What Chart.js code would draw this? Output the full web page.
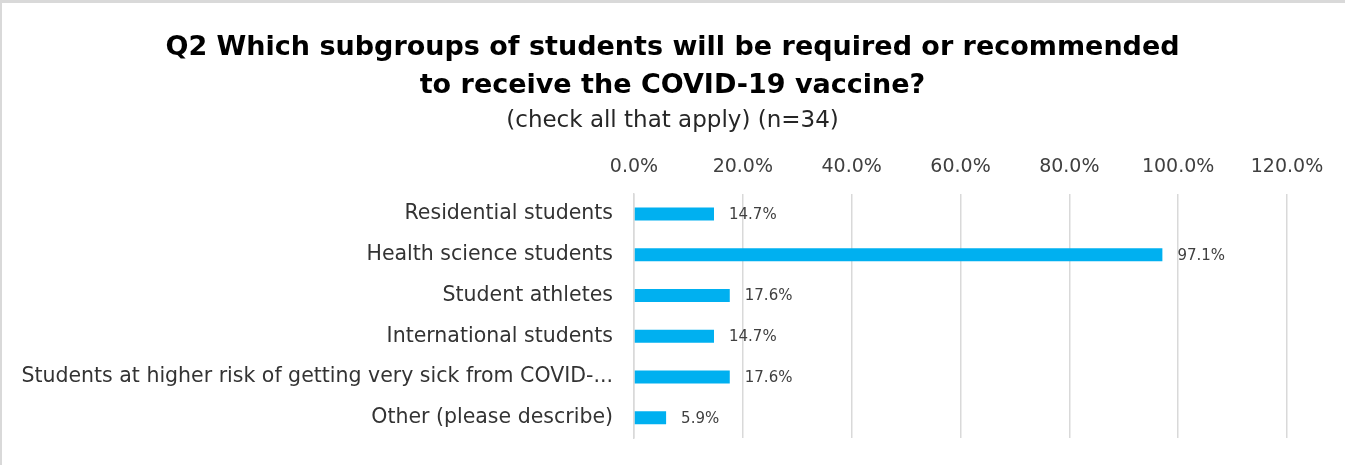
<!DOCTYPE html>
<html>
<head>
<meta charset="utf-8">
<script src="https://cdn.jsdelivr.net/npm/chart.js@4/dist/chart.umd.min.js"></script>
<style>
  html, body { margin: 0; padding: 0; background: #fff; overflow: hidden; }
  .frame {
    position: absolute; left: 0; top: 0;
    width: 1360px; height: 480px;
    border-left: 2px solid #d9d9d9; border-top: 3px solid #d9d9d9;
    box-sizing: border-box;
  }
  .wrap { position: absolute; left: 0; top: 0; width: 1345px; height: 465px; }
</style>
</head>
<body>
<div class="frame"></div>
<div class="wrap"><canvas id="chart" width="1345" height="465"></canvas></div>
<script>
// Survey answers: share of respondents choosing each subgroup
const categories = [
  'Residential students',
  'Health science students',
  'Student athletes',
  'International students',
  'Students at higher risk of getting very sick from COVID-...',
  'Other (please describe)'
];
const shares = [0.147, 0.971, 0.176, 0.147, 0.176, 0.059];
const titleLines = [
  'Q2 Which subgroups of students will be required or recommended',
  'to receive the COVID-19 vaccine?'
];
const subtitleText = '(check all that apply) (n=34)';

const FONT = "'DejaVu Sans', 'Open Sans', sans-serif";
const pct = v => (v * 100).toFixed(1) + '%';

// Writes the value just past the end of each bar
const valueLabels = {
  id: 'valueLabels',
  afterDatasetsDraw(chart) {
    const ctx = chart.ctx;
    const meta = chart.getDatasetMeta(0);
    ctx.save();
    ctx.font = '15px ' + FONT;
    ctx.fillStyle = '#404040';
    ctx.textAlign = 'left';
    ctx.textBaseline = 'middle';
    meta.data.forEach((bar, i) => {
      ctx.fillText(pct(shares[i]), bar.x + 15, bar.y + 1);
    });
    ctx.restore();
  }
};

// Centre the title and subtitle on the whole canvas rather than the padded box
const centreHeadings = {
  id: 'centreHeadings',
  afterLayout(chart) {
    chart.boxes.forEach(box => {
      if (box.fullSize && box.options && 'text' in box.options) {
        box.left = 0;
        box.right = chart.width;
      }
    });
  }
};

new Chart(document.getElementById('chart'), {
  type: 'bar',
  data: {
    labels: categories,
    datasets: [{
      data: shares,
      backgroundColor: '#00b0f0',
      borderWidth: 0,
      barPercentage: 0.8,
      categoryPercentage: 0.4
    }]
  },
  options: {
    indexAxis: 'y',
    responsive: false,
    animation: false,
    layout: { padding: { left: 0, right: 58, top: 0, bottom: 27 } },
    plugins: {
      legend: { display: false },
      tooltip: { enabled: false },
      title: {
        display: true,
        text: titleLines,
        color: '#000',
        font: { family: FONT, size: 27, weight: 'bold', lineHeight: 1.4 },
        padding: { top: 29, bottom: 0 }
      },
      subtitle: {
        display: true,
        text: subtitleText,
        color: '#262626',
        font: { family: FONT, size: 23, weight: 'normal', lineHeight: 1.1 },
        padding: { top: 4, bottom: 7 }
      }
    },
    scales: {
      x: {
        position: 'top',
        min: 0,
        max: 1.2,
        ticks: {
          stepSize: 0.2,
          callback: v => pct(v),
          color: '#404040',
          font: { family: FONT, size: 19 },
          padding: 15
        },
        grid: { color: '#d9d9d9', lineWidth: 1.5, drawTicks: false },
        border: { display: false }
      },
      y: {
        afterFit(scale) {
          scale.width = 634;
          scale.paddingTop = 0;
          scale.paddingBottom = 0;
        },
        ticks: {
          color: '#333333',
          font: { family: FONT, size: 20.5 },
          padding: 21
        },
        grid: { display: false, drawTicks: false },
        border: { display: true, color: '#d9d9d9', width: 1.5 }
      }
    }
  },
  plugins: [valueLabels, centreHeadings]
});
</script>
</body>
</html>
